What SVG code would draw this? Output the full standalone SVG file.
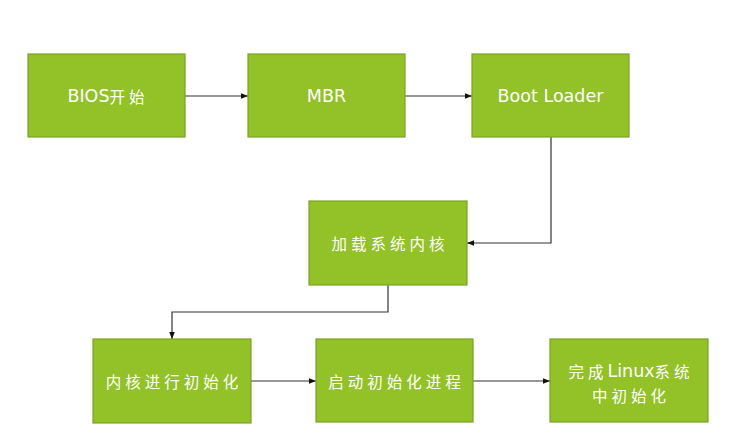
<svg xmlns="http://www.w3.org/2000/svg" width="742" height="439" viewBox="0 0 742 439">
<style>
.box{fill:#92c128;stroke:#7ba327;stroke-width:1.2}
.t{fill:#ffffff;font-family:"DejaVu Sans","Noto Sans CJK SC",sans-serif;font-size:17.5px;text-anchor:middle;dominant-baseline:central}
.c{font-family:"Noto Sans CJK SC",sans-serif;font-size:15.5px;letter-spacing:4px}
.ln{fill:none;stroke:#333333;stroke-width:1.2}
</style>
<defs>
<marker id="ah" viewBox="0 0 10 10" refX="10" refY="5" markerWidth="7" markerHeight="7" orient="auto" markerUnits="userSpaceOnUse">
<path d="M0,1 L10,5 L0,9 z" fill="#111111"/>
</marker>
</defs>
<rect width="742" height="439" fill="#ffffff"/>
<g id="connectors">
<line class="ln" x1="185" y1="96" x2="248" y2="96" marker-end="url(#ah)"/>
<line class="ln" x1="405" y1="96" x2="472" y2="96" marker-end="url(#ah)"/>
<polyline class="ln" points="551,137 551,243 467,243" marker-end="url(#ah)"/>
<polyline class="ln" points="388,285 388,312 172,312 172,339" marker-end="url(#ah)"/>
<line class="ln" x1="251" y1="381" x2="316" y2="381" marker-end="url(#ah)"/>
<line class="ln" x1="473" y1="381" x2="550" y2="381" marker-end="url(#ah)"/>
</g>
<g id="n1"><rect class="box" x="28" y="54" width="157" height="83"/><text class="t" x="108" y="96">BIOS<tspan class="c">开始</tspan></text></g>
<g id="n2"><rect class="box" x="248" y="54" width="157" height="83"/><text class="t" x="326.5" y="96">MBR</text></g>
<g id="n3"><rect class="box" x="472" y="54" width="157" height="83"/><text class="t" x="550.5" y="96">Boot Loader</text></g>
<g id="n4"><rect class="box" x="309" y="201" width="158" height="84"/><text class="t c" x="390" y="243">加载系统内核</text></g>
<g id="n5"><rect class="box" x="93" y="339" width="158" height="84"/><text class="t c" x="174" y="381">内核进行初始化</text></g>
<g id="n6"><rect class="box" x="316" y="339" width="157" height="83"/><text class="t c" x="396.5" y="381">启动初始化进程</text></g>
<g id="n7"><rect class="box" x="550" y="339" width="158" height="83"/><text class="t" x="631" y="371"><tspan class="c">完成</tspan>Linux<tspan class="c">系统</tspan></text><text class="t c" x="631" y="395">中初始化</text></g>
</svg>
